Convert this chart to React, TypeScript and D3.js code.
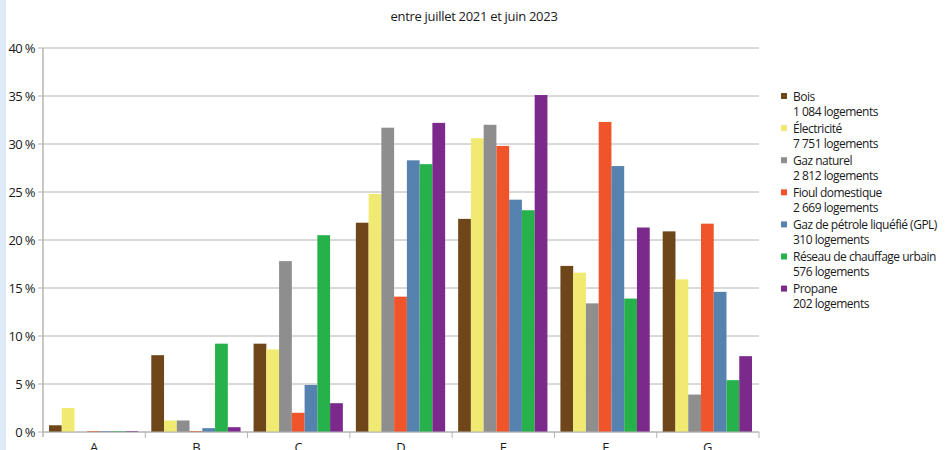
import * as React from "react";
import { scaleBand, scaleLinear } from "d3";

// categories on x
const categories = ["A", "B", "C", "D", "E", "F", "G"];

// series (share of housing, %)
const seriesNames = [
  "Bois",
  "Électricité",
  "Gaz naturel",
  "Fioul domestique",
  "Gaz de pétrole liquéfié (GPL)",
  "Réseau de chauffage urbain",
  "Propane",
];
const seriesCounts = [
  "1 084 logements",
  "7 751 logements",
  "2 812 logements",
  "2 669 logements",
  "310 logements",
  "576 logements",
  "202 logements",
];
const seriesColors = [
  "#6e4619",
  "#f0ea72",
  "#8e8e8e",
  "#f0542a",
  "#5682b0",
  "#27b14a",
  "#7b2a8c",
];

const bois = [0.7, 8.0, 9.2, 21.8, 22.2, 17.3, 20.9];
const electricite = [2.5, 1.2, 8.6, 24.8, 30.6, 16.6, 15.9];
const gazNaturel = [0, 1.2, 17.8, 31.7, 32.0, 13.4, 3.9];
const fioul = [0.1, 0.1, 2.0, 14.1, 29.8, 32.3, 21.7];
const gpl = [0.1, 0.4, 4.9, 28.3, 24.2, 27.7, 14.6];
const reseau = [0.1, 9.2, 20.5, 27.9, 23.1, 13.9, 5.4];
const propane = [0.1, 0.5, 3.0, 32.2, 35.1, 21.3, 7.9];

const seriesValues = [bois, electricite, gazNaturel, fioul, gpl, reseau, propane];

const yTicks = [0, 5, 10, 15, 20, 25, 30, 35, 40];

const title = "entre juillet 2021 et juin 2023";

const App = () => {
  const W = 951;
  const H = 450;
  const margin = { top: 48, left: 43, right: 192, bottom: 18 };
  const plotW = W - margin.left - margin.right;
  const plotH = H - margin.top - margin.bottom;

  const x = scaleBand<string>().domain(categories).range([0, plotW]);
  const inner = scaleBand<number>()
    .domain(seriesNames.map((_, i) => i))
    .range([6, x.bandwidth() - 7]);
  const y = scaleLinear().domain([0, 40]).range([plotH, 0]);

  const font = "'Open Sans', 'DejaVu Sans', sans-serif";
  const grid = "#b4b4b4";

  return (
    <svg
      width={W}
      height={H}
      style={{ position: "absolute", left: 0, top: 0, background: "#fff" }}
    >
      <rect x={0} y={0} width={6} height={H} fill="#dcebf7" />
      <text
        x={474}
        y={21}
        textAnchor="middle"
        fontFamily={font}
        fontSize={13}
        letterSpacing={-0.3}
        fill="#1a1a1a"
      >
        {title}
      </text>
      <g transform={`translate(${margin.left},${margin.top})`}>
        {yTicks.map(t => (
          <g key={t} transform={`translate(0,${y(t)})`}>
            <line x1={-5} x2={plotW} stroke={grid} strokeWidth={1} />
            <text
              x={-8}
              dy="0.35em"
              textAnchor="end"
              fontFamily={font}
              fontSize={13}
              letterSpacing={-0.6}
              fill="#1a1a1a"
            >
              {`${t} %`}
            </text>
          </g>
        ))}
        <line x1={0} x2={0} y1={0} y2={plotH + 5} stroke={grid} strokeWidth={1.5} />
        {categories.map((c, ci) => (
          <g key={c} transform={`translate(${x(c)},0)`}>
            {seriesValues.map((vals, si) => (
              <rect
                key={si}
                x={inner(si)}
                y={y(vals[ci])}
                width={inner.bandwidth()}
                height={plotH - y(vals[ci])}
                fill={seriesColors[si]}
              />
            ))}
            <line
              x1={x.bandwidth()}
              x2={x.bandwidth()}
              y1={plotH}
              y2={plotH + 6}
              stroke={grid}
            />
            <text
              x={x.bandwidth() / 2}
              y={plotH + 20}
              textAnchor="middle"
              fontFamily={font}
              fontSize={13}
              fill="#1a1a1a"
            >
              {c}
            </text>
          </g>
        ))}
        <line x1={0} x2={plotW} y1={plotH} y2={plotH} stroke={grid} strokeWidth={1} />
      </g>
      <g transform="translate(781,93)" fontFamily={font} fontSize={12} fill="#1a1a1a">
        {seriesNames.map((n, i) => (
          <g key={n} transform={`translate(0,${i * 32.1})`}>
            <rect x={0} y={0} width={6} height={6} fill={seriesColors[i]} />
            <text x={12} y={7.5} letterSpacing={-0.5}>
              {n}
            </text>
            <text x={12} y={22.5} letterSpacing={-0.5}>
              {seriesCounts[i]}
            </text>
          </g>
        ))}
      </g>
    </svg>
  );
};

export default App;
